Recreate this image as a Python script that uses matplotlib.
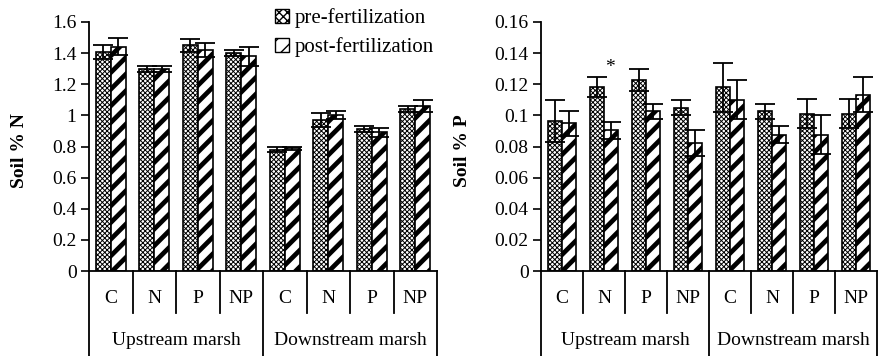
import matplotlib
matplotlib.use("Agg")
import matplotlib.pyplot as plt
import matplotlib.transforms as mtransforms
from matplotlib.patches import Patch
from matplotlib.ticker import FuncFormatter, MultipleLocator
import numpy as np

plt.rcParams['font.family'] = ['Liberation Serif', 'DejaVu Serif']

treatments = ["C", "N", "P", "NP", "C", "N", "P", "NP"]
sites = ["Upstream marsh", "Downstream marsh"]
legend_labels = ["pre-fertilization", "post-fertilization"]

n_pre = [1.41, 1.30, 1.45, 1.40, 0.78, 0.97, 0.91, 1.04]
n_pre_err = [0.045, 0.02, 0.04, 0.02, 0.015, 0.045, 0.02, 0.02]
n_post = [1.44, 1.30, 1.42, 1.38, 0.79, 1.00, 0.89, 1.06]
n_post_err = [0.055, 0.02, 0.045, 0.06, 0.01, 0.025, 0.03, 0.037]

p_pre = [0.0963, 0.118, 0.1227, 0.105, 0.118, 0.1026, 0.101, 0.101]
p_pre_err = [0.0134, 0.0064, 0.0073, 0.0047, 0.0157, 0.005, 0.0094, 0.0094]
p_post = [0.0948, 0.0903, 0.1026, 0.082, 0.110, 0.0877, 0.0877, 0.1134]
p_post_err = [0.0078, 0.0056, 0.005, 0.0083, 0.0125, 0.0056, 0.0127, 0.011]

fig = plt.figure(figsize=(8.81, 3.56), dpi=100)
W, H = 881, 356
FS = 14


def fmt(v, pos):
    s = f"{v:.2f}".rstrip('0').rstrip('.')
    return s


def panel(rect, pre, pre_err, post, post_err, ylim, step, ylabel, ylabel_x):
    ax = fig.add_axes(rect)
    x = np.arange(len(treatments))
    w = 0.34
    with plt.rc_context({'hatch.linewidth': 0.7}):
        ax.bar(x - w / 2, pre, w, facecolor='white', edgecolor='black',
               hatch='xxxxxxx', linewidth=1.2, zorder=2)
    with plt.rc_context({'hatch.linewidth': 3.4}):
        ax.bar(x + w / 2, post, w, facecolor='white', edgecolor='black',
               hatch='//', linewidth=1.2, zorder=2)
    ax.errorbar(x - w / 2, pre, yerr=pre_err, fmt='none', ecolor='black',
                elinewidth=1.3, capsize=7, capthick=1.3, zorder=3)
    ax.errorbar(x + w / 2, post, yerr=post_err, fmt='none', ecolor='black',
                elinewidth=1.3, capsize=7, capthick=1.3, zorder=3)
    ax.set_xlim(-0.5, len(treatments) - 0.5)
    ax.set_ylim(*ylim)
    ax.yaxis.set_major_locator(MultipleLocator(step))
    ax.yaxis.set_major_formatter(FuncFormatter(fmt))
    ax.set_xticks([])
    for s in ['top', 'right']:
        ax.spines[s].set_visible(False)
    ax.spines['left'].set_linewidth(1.3)
    ax.spines['bottom'].set_linewidth(1.3)
    ax.tick_params(axis='y', direction='out', length=6, width=1.2,
                   labelsize=FS, pad=3)
    trans = mtransforms.blended_transform_factory(ax.transData, ax.transAxes)
    for b in range(len(treatments) + 1):
        xb = b - 0.5
        y_end = -0.36 if b % 4 == 0 else -0.17
        ax.plot([xb, xb], [0, y_end], color='black', lw=1.3,
                transform=trans, clip_on=False)
    for i, t in enumerate(treatments):
        ax.text(i, -0.11, t, transform=trans, ha='center', va='center',
                fontsize=FS)
    for g, s in enumerate(sites):
        ax.text(g * 4 + 1.5, -0.28, s, transform=trans, ha='center',
                va='center', fontsize=FS)
    fig.text(ylabel_x, 0.576, ylabel, rotation=90, ha='center', va='center',
             fontsize=FS, fontweight='bold')
    return ax


ax1 = panel([89 / W, 1 - 271 / H, (437 - 89) / W, (271 - 22) / H],
            n_pre, n_pre_err, n_post, n_post_err, (0, 1.6), 0.2,
            "Soil % N", 20 / W)
ax2 = panel([541 / W, 1 - 271 / H, (877 - 541) / W, (271 - 22) / H],
            p_pre, p_pre_err, p_post, p_post_err, (0, 0.16), 0.02,
            "Soil % P", 463 / W)

ax2.text(1.15, 0.1305, "*", ha='center', va='center', fontsize=FS)

with plt.rc_context({'hatch.linewidth': 0.7}):
    h1 = Patch(facecolor='white', edgecolor='black', hatch='xxxx')
with plt.rc_context({'hatch.linewidth': 2.5}):
    h2 = Patch(facecolor='white', edgecolor='black', hatch='//')
ax1.legend([h1, h2], legend_labels, loc='upper left',
           bbox_to_anchor=(0.535, 1.055), frameon=False, fontsize=15,
           handlelength=0.65, handleheight=0.65, handletextpad=0.3,
           labelspacing=0.45, borderpad=0, borderaxespad=0)

fig.savefig("out.png", dpi=100)
